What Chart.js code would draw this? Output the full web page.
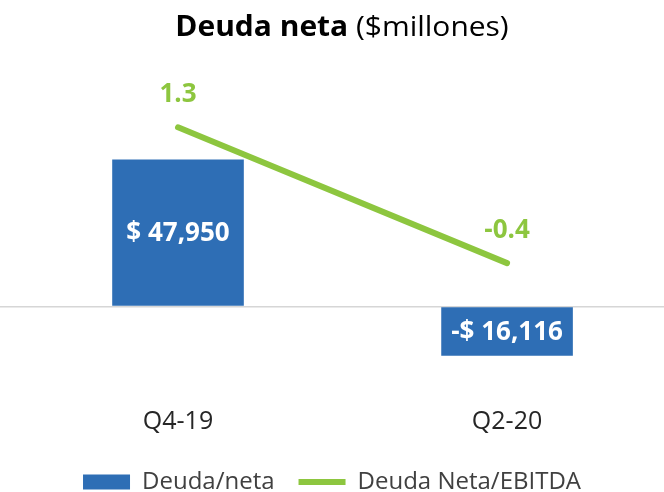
<!DOCTYPE html>
<html>
<head>
<meta charset="utf-8">
<script src="https://cdn.jsdelivr.net/npm/chart.js@4.4.1/dist/chart.umd.min.js"></script>
<style>
  html, body { margin: 0; padding: 0; background: #fff; overflow: hidden; }
  #wrap { width: 664px; height: 492px; overflow: hidden; }
</style>
</head>
<body>
<div id="wrap"><canvas id="deudaChart" width="664" height="504"></canvas></div>
<script>
// data
const periods = ['Q4-19', 'Q2-20'];
const deudaNeta = [47950, -16116];      // $ millones
const deudaEbitda = [1.3, -0.4];        // veces

const titleBold = 'Deuda neta';
const titleRest = '($millones)';

const blue = '#2E6EB5';
const green = '#8DC63F';

// chart.js wants {x, y} points on a linear x axis
const barPoints = deudaNeta.map((v, i) => ({ x: i, y: v }));
const linePoints = deudaEbitda.map((v, i) => ({ x: i, y: v }));

Chart.defaults.font.family = "'Open Sans', sans-serif";

function money(v) {
    const s = Math.abs(v).toLocaleString('en-US');
    return v < 0 ? '-$ ' + s : '$ ' + s;
}

// title with a bold part and a plain part
const titlePlugin = {
    id: 'mixedTitle',
    afterDraw(chart) {
        const ctx = chart.ctx;
        ctx.save();
        ctx.textBaseline = 'alphabetic';
        ctx.fillStyle = '#000';
        const boldFont = "bold 28px 'Open Sans', sans-serif";
        const plainFont = "28px 'Open Sans', sans-serif";
        ctx.font = boldFont;
        const w1 = ctx.measureText(titleBold + ' ').width;
        ctx.font = plainFont;
        const w2 = ctx.measureText(titleRest).width;
        const sx = 1.07;  // the original title is a bit wider
        ctx.translate(342, 36);
        ctx.scale(sx, 1);
        const x = -(w1 + w2) / 2;
        ctx.textAlign = 'left';
        ctx.font = boldFont;
        ctx.fillText(titleBold + ' ', x, 0);
        ctx.font = plainFont;
        ctx.fillText(titleRest, x + w1, 0);
        ctx.restore();
    }
};

// value labels on the bars and above the line points
const labelPlugin = {
    id: 'valueLabels',
    afterDatasetsDraw(chart) {
        const ctx = chart.ctx;
        ctx.save();
        ctx.textAlign = 'center';

        const barMeta = chart.getDatasetMeta(1);
        ctx.font = "bold 26px 'Open Sans', sans-serif";
        ctx.fillStyle = '#fff';
        ctx.textBaseline = 'middle';
        barMeta.data.forEach((el, i) => {
            ctx.fillText(money(deudaNeta[i]), el.x, (el.y + el.base) / 2 + 1);
        });

        const lineMeta = chart.getDatasetMeta(0);
        ctx.fillStyle = green;
        ctx.textBaseline = 'alphabetic';
        lineMeta.data.forEach((el, i) => {
            ctx.fillText(deudaEbitda[i].toFixed(1), el.x, el.y - 25);
        });
        ctx.restore();
    }
};

const config = {
    data: {
        datasets: [{
            type: 'line',
            label: 'Deuda Neta/EBITDA',
            data: linePoints,
            yAxisID: 'y1',
            borderColor: green,
            backgroundColor: green,
            borderWidth: 6,
            borderCapStyle: 'round',
            pointRadius: 0,
            pointStyle: 'line',
            tension: 0,
            order: 1
        }, {
            type: 'bar',
            label: 'Deuda/neta',
            data: barPoints,
            yAxisID: 'y',
            backgroundColor: blue,
            borderWidth: 0,
            pointStyle: 'rect',
            barPercentage: 0.4,
            categoryPercentage: 1,
            order: 2
        }]
    },
    options: {
        responsive: false,
        animation: false,
        layout: {
            padding: { top: 80, left: 0, right: 0, bottom: 0 }
        },
        scales: {
            x: {
                type: 'linear',
                offset: false,
                min: -0.541,
                max: 1.477,
                grid: { display: false, drawTicks: false },
                border: { display: false },
                ticks: {
                    stepSize: 1,
                    includeBounds: false,
                    padding: 9,
                    color: '#262626',
                    font: { size: 25 },
                    callback: (v) => periods[v] !== undefined ? periods[v] : ''
                }
            },
            y: {
                position: 'left',
                min: -29885,
                max: 73892,
                border: { display: false },
                ticks: { display: false },
                grid: {
                    drawTicks: false,
                    lineWidth: 1.5,
                    color: (c) => c.tick && c.tick.value === 0 ? '#d6d6d6' : 'rgba(0,0,0,0)'
                }
            },
            y1: {
                position: 'right',
                display: false,
                min: -2.088,
                max: 1.892
            }
        },
        plugins: {
            title: { display: false },
            tooltip: { enabled: false },
            legend: {
                position: 'bottom',
                reverse: true,
                labels: {
                    usePointStyle: true,
                    pointStyleWidth: 47,
                    boxHeight: 15,
                    padding: 24,
                    color: '#404040',
                    font: { size: 24 }
                }
            }
        }
    },
    plugins: [titlePlugin, labelPlugin]
};

window.onload = function() {
    const ctx = document.getElementById('deudaChart').getContext('2d');
    window.deudaChart = new Chart(ctx, config);
};
</script>
</body>
</html>
